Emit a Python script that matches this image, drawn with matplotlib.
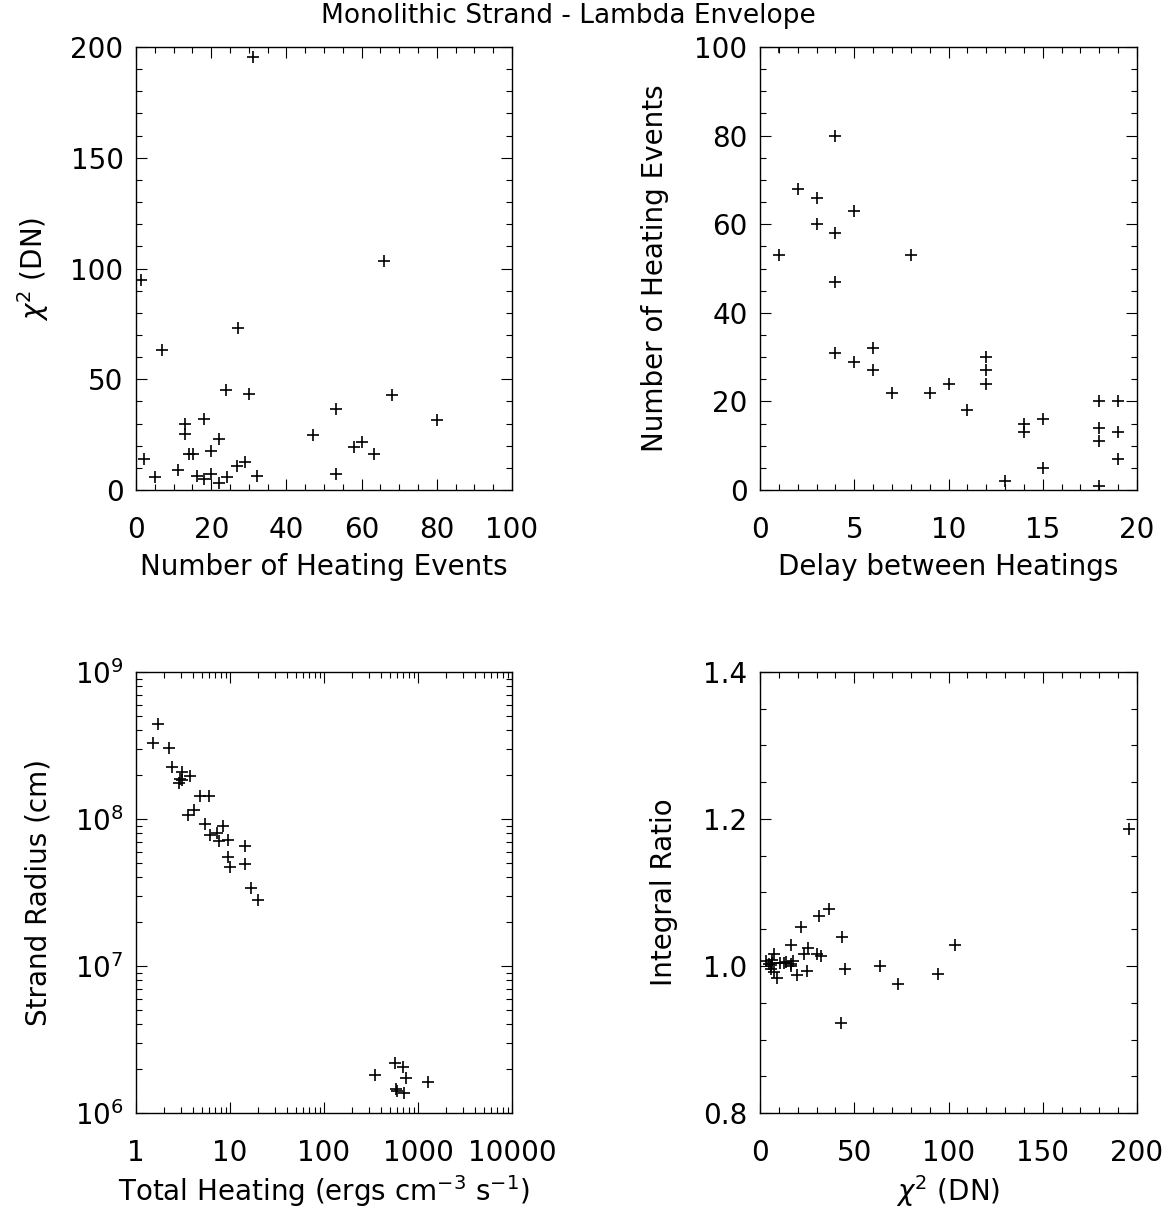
import numpy as np
import matplotlib
matplotlib.use('Agg')
import matplotlib.pyplot as plt
from matplotlib.ticker import MultipleLocator, LogLocator, FixedLocator, NullFormatter

# --- panel 1 : chi^2 vs number of heating events
n_events = [31.2, 66.0, 1.2, 27.0, 7.0, 24.0, 30.1, 68.2, 53.2, 80.1, 18.1,
            13.1, 13.1, 47.0, 22.1, 60.1, 58.0, 20.0, 14.0, 15.2, 63.2, 2.1,
            29.1, 26.9, 11.2, 53.2, 20.0, 16.1, 24.1, 32.1, 5.1, 18.1, 22.1]
chi2 = [195.5, 103.6, 94.6, 73.3, 63.4, 45.3, 43.5, 42.8, 36.6, 31.4, 32.1,
        30.0, 25.5, 24.8, 23.1, 21.6, 19.5, 17.6, 16.2, 16.2, 16.4, 14.0,
        12.8, 10.8, 8.9, 7.2, 7.2, 6.3, 6.0, 6.3, 6.0, 4.8, 3.3]

# --- panel 2 : number of events vs delay
delay = [1, 4, 2, 3, 5, 3, 4, 1, 8, 4, 4, 5, 6, 6, 7, 9, 10, 11, 12, 12, 12,
         13, 14, 14, 15, 15, 18, 18, 18, 18, 19, 19, 19]
n_events2 = [100, 80, 68, 66, 63, 60, 58, 53, 53, 47, 31, 29, 32, 27, 22, 22,
             24, 18, 30, 27, 24, 2, 15, 13, 16, 5, 20, 14, 11, 1, 20, 13, 7]

# --- panel 3 : strand radius vs total heating
heating = [1.70, 1.52, 2.25, 2.40, 3.05, 3.77, 2.95, 3.07, 2.85, 4.74, 6.02,
           4.16, 3.59, 5.41, 8.42, 6.07, 7.21, 7.69, 9.52, 14.6, 9.52, 10.0,
           14.6, 16.9, 19.7,
           347, 568, 686, 738, 1289, 577, 592, 709]
radius = [4.45e8, 3.29e8, 3.03e8, 2.26e8, 2.09e8, 1.96e8, 1.86e8, 1.83e8,
          1.77e8, 1.43e8, 1.43e8, 1.15e8, 1.06e8, 9.3e7, 8.9e7, 7.82e7, 8.0e7,
          7.08e7, 7.16e7, 6.52e7, 5.51e7, 4.72e7, 4.92e7, 3.40e7, 2.83e7,
          1.82e6, 2.19e6, 2.05e6, 1.73e6, 1.63e6, 1.45e6, 1.41e6, 1.37e6]

# --- panel 4 : integral ratio vs chi^2
chi2_b = chi2
ratio = [1.187, 1.028, 0.989, 0.975, 1.000, 0.996, 1.039, 0.923, 1.078, 1.068,
         1.014, 1.017, 1.025, 0.993, 1.016, 1.053, 0.988, 1.007, 1.028, 1.003,
         1.000, 1.005, 1.004, 1.004, 0.984, 1.017, 0.992, 1.004, 0.996, 1.008,
         1.002, 1.003, 1.007]

W, H = 1171, 1213
fig = plt.figure(figsize=(W / 100, H / 100), dpi=100)

FS = 20
mk = dict(marker='+', linestyle='none', color='black', ms=8.5, mew=1.2)


def box(l, r, t, b):
    return [l / W, 1 - b / H, (r - l) / W, (b - t) / H]


def style(ax):
    ax.tick_params(which='both', direction='in', top=True, right=True,
                   labelsize=FS, width=0.8, color='black')
    ax.tick_params(which='major', length=8)
    ax.tick_params(which='minor', length=4)
    ax.tick_params(axis='y', which='major', pad=9)
    ax.tick_params(axis='x', which='major', pad=19)
    for s in ax.spines.values():
        s.set_linewidth(1.0)


ax1 = fig.add_axes(box(136, 512, 47, 490))
ax1.plot(n_events, chi2, **mk)
ax1.set_xlim(0, 100)
ax1.set_ylim(0, 200)
ax1.xaxis.set_major_locator(MultipleLocator(20))
ax1.xaxis.set_minor_locator(MultipleLocator(5))
ax1.yaxis.set_major_locator(MultipleLocator(50))
ax1.yaxis.set_minor_locator(MultipleLocator(10))
ax1.set_xlabel('Number of Heating Events', fontsize=FS, labelpad=6)
ax1.set_ylabel(r'$\chi^2$ (DN)', fontsize=FS, labelpad=14)
style(ax1)

ax2 = fig.add_axes(box(760, 1137, 47, 490))
ax2.plot(delay, n_events2, **mk)
ax2.set_xlim(0, 20)
ax2.set_ylim(0, 100)
ax2.xaxis.set_major_locator(MultipleLocator(5))
ax2.xaxis.set_minor_locator(MultipleLocator(1))
ax2.yaxis.set_major_locator(MultipleLocator(20))
ax2.yaxis.set_minor_locator(MultipleLocator(5))
ax2.set_xlabel('Delay between Heatings', fontsize=FS, labelpad=6)
ax2.set_ylabel('Number of Heating Events', fontsize=FS, labelpad=18)
style(ax2)

ax3 = fig.add_axes(box(136, 512, 672, 1113))
ax3.plot(heating, radius, **mk)
ax3.set_xscale('log')
ax3.set_yscale('log')
ax3.set_xlim(1, 1e4)
ax3.set_ylim(1e6, 1e9)
ax3.xaxis.set_major_locator(FixedLocator([1, 10, 100, 1000, 10000]))
ax3.set_xticklabels(['1', '10', '100', '1000', '10000'])
ax3.xaxis.set_minor_locator(LogLocator(base=10, subs=np.arange(2, 10), numticks=50))
ax3.xaxis.set_minor_formatter(NullFormatter())
ax3.yaxis.set_minor_locator(LogLocator(base=10, subs=np.arange(2, 10), numticks=50))
ax3.yaxis.set_minor_formatter(NullFormatter())
ax3.set_xlabel(r'Total Heating (ergs cm$^{-3}$ s$^{-1}$)', fontsize=FS, labelpad=4)
ax3.set_ylabel('Strand Radius (cm)', fontsize=FS, labelpad=16)
style(ax3)

ax4 = fig.add_axes(box(760, 1137, 672, 1113))
ax4.plot(chi2_b, ratio, **mk)
ax4.set_xlim(0, 200)
ax4.set_ylim(0.8, 1.4)
ax4.xaxis.set_major_locator(MultipleLocator(50))
ax4.xaxis.set_minor_locator(MultipleLocator(10))
ax4.yaxis.set_major_locator(MultipleLocator(0.2))
ax4.yaxis.set_minor_locator(MultipleLocator(0.05))
ax4.yaxis.set_major_formatter(matplotlib.ticker.FormatStrFormatter('%.1f'))
ax4.set_xlabel(r'$\chi^2$ (DN)', fontsize=FS, labelpad=4)
ax4.set_ylabel('Integral Ratio', fontsize=FS, labelpad=18)
style(ax4)

fig.text(0.485, 1 - 16 / H, 'Monolithic Strand - Lambda Envelope',
         ha='center', va='center', fontsize=19)

fig.savefig('out.png', dpi=100)
